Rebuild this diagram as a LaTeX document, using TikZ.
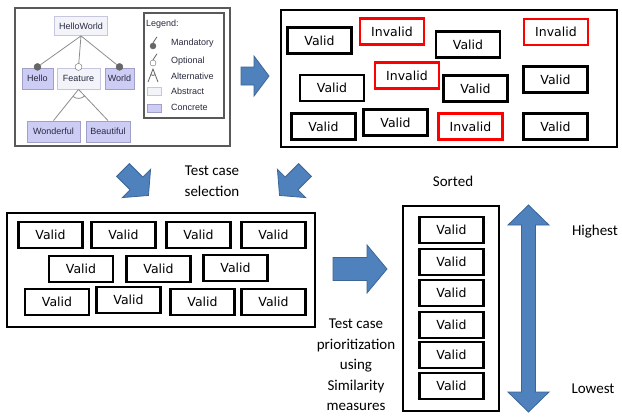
\documentclass[tikz,border=0pt]{standalone}
\usepackage{fontspec}
\setmainfont{DejaVu Sans}
\newfontfamily\notefont{Carlito}
\newfontfamily\fmfont{Liberation Sans}
\usepackage{tikz}
\usetikzlibrary{positioning, calc}
\definecolor{arrowblue}{HTML}{4F81BD}
\definecolor{arrowedge}{HTML}{3C6696}
\definecolor{fmconcrete}{HTML}{CCCCF5}
\definecolor{fmabstract}{HTML}{F3F3FA}
\definecolor{fmedge}{HTML}{A0A0C8}
\definecolor{fmtext}{HTML}{2A2A40}

\begin{document}
\begin{tikzpicture}[x=1pt, y=-1pt]
\tikzstyle{case}=[draw, line width=2.2pt, minimum width=64pt, minimum height=26pt, inner sep=0pt, font=\fontsize{12.5}{14}\selectfont]
\tikzstyle{bad}=[case, draw=red]
\tikzstyle{panel}=[draw, line width=1.8pt]
\tikzstyle{note}=[font=\notefont\fontsize{15}{20.5}\selectfont, align=center, inner sep=0pt]
\tikzstyle{blockarrow}=[fill=arrowblue, draw=arrowedge, line width=.8pt]
\tikzstyle{fmbox}=[draw=fmedge, fill=fmconcrete, line width=.8pt, minimum height=21pt, inner sep=0pt, text=fmtext, font=\fmfont\fontsize{9}{10}\selectfont]
\tikzstyle{fmabs}=[fmbox, fill=fmabstract, draw=fmedge!60]
\tikzstyle{fmline}=[draw=black!45, line width=.8pt]
\tikzstyle{dot}=[circle, draw=black!60, fill=black!60, minimum size=7pt, inner sep=0pt]
\tikzstyle{opt}=[dot, fill=white]
\tikzstyle{legtext}=[anchor=west, inner sep=0pt, text=fmtext, font=\fmfont\fontsize{9}{10}\selectfont]

\useasboundingbox (0,0) rectangle (622,416);

% feature model
\draw[draw=black!65, line width=1.5pt] (15,8) rectangle (230,146);
\node[fmabs, minimum width=53pt, minimum height=19pt] (hw) at (81,26) {HelloWorld};
\node[fmbox, minimum width=31pt] (hello) at (37.5,78.5) {Hello};
\node[fmabs, minimum width=43pt] (feat) at (78.5,78.5) {Feature};
\node[fmbox, minimum width=29pt] (world) at (119.5,78.5) {World};
\node[fmbox, minimum width=53pt] (wond) at (53.5,131.5) {Wonderful};
\node[fmbox, minimum width=44pt] (beau) at (108,131.5) {Beautiful};
\node[dot, above=-3pt of hello] (mh) {};
\node[opt, above=-3pt of feat] (of) {};
\node[dot, above=-3pt of world] (mw) {};

\path 
(hw.south) edge[fmline] (mh)
    edge[fmline] (of)
    edge[fmline] (mw)
(feat.south) edge[fmline] (wond.north)
    edge[fmline] (beau.north);
\draw[fmline] ($(feat.south)!9pt!(wond.north)$) to[bend right=40] ($(feat.south)!9pt!(beau.north)$);

% legend
\draw[draw=black!65, line width=1.2pt, fill=white] (144,13) rectangle (224,118);
\node[legtext] (lhead) at (146,24) {Legend:};
\node[dot, minimum size=6pt] (lmand) at (153,46) {};
\draw[fmline, draw=black!60] (lmand.north) -- ++(4,-6);
\node[legtext] (lmandt) at (171,43) {Mandatory};
\node[opt, minimum size=6pt] (lopt) at (153,63) {};
\draw[fmline, draw=black!60] (lopt.north) -- ++(4,-6);
\node[legtext] (loptt) at (171,61) {Optional};
\coordinate (lalt) at (153,69);
\coordinate (laltl) at (148,82);
\coordinate (laltr) at (158,82);
\draw[fmline, draw=black!60] (laltl) -- (lalt) -- (laltr);
\draw[fmline, draw=black!60] ($(lalt)!6pt!(laltl)$) to[bend right=40] ($(lalt)!6pt!(laltr)$);
\node[legtext] (laltt) at (171,76) {Alternative};
\node[fmabs, minimum width=14pt, minimum height=8pt] (labs) at (154,91) {};
\node[legtext] (labst) at (171,91) {Abstract};
\node[fmbox, minimum width=14pt, minimum height=8pt] (lcon) at (154,108) {};
\node[legtext] (lcont) at (171,107) {Concrete};

% all test cases
\draw[panel] (281,10) rectangle (617,147);
\node[case] (t1) at (319.5,40.5) {Valid};
\node[bad] (t2) at (392,31.5) {Invalid};
\node[case] (t3) at (468,44.5) {Valid};
\node[bad] (t4) at (556,32) {Invalid};
\node[case] (t5) at (332,88) {Valid};
\node[bad] (t6) at (407,75.5) {Invalid};
\node[case] (t7) at (475.5,88.5) {Valid};
\node[case] (t8) at (555.5,79.5) {Valid};
\node[case] (t9) at (323.5,126.5) {Valid};
\node[case] (t10) at (395.5,122.5) {Valid};
\node[bad] (t11) at (470.5,126.5) {Invalid};
\node[case] (t12) at (555.5,126.5) {Valid};

% selected test cases
\draw[panel] (7,213) rectangle (315,327);
\foreach \n/\x/\y in {1/50.5/235, 2/123.5/235, 3/198.5/235, 4/273.5/235,
                      5/81/269, 6/158.5/269, 7/235.5/268,
                      8/57/302, 9/128.5/300, 10/202.5/302, 11/273.5/302}
  \node[case] (v\n) at (\x,\y) {Valid};

% sorted test cases
\draw[panel] (403,206) rectangle (499,411);
\foreach \n/\y in {1/230, 2/262, 3/293, 4/325, 5/355, 6/386}
  \node[case] (s\n) at (451.5,\y) {Valid};

% arrows
\draw[blockarrow, shift={(241,76)}] (0,-9) -- (13,-9) -- (13,-20) -- (28,0) -- (13,20) -- (13,9) -- (0,9) -- cycle;
\draw[blockarrow, shift={(123,170)}, rotate=-45] (0,-9) -- (19,-9) -- (19,-20) -- (36,0) -- (19,20) -- (19,9) -- (0,9) -- cycle;
\draw[blockarrow, shift={(305,170)}, rotate=-135] (0,-9) -- (19,-9) -- (19,-20) -- (36,0) -- (19,20) -- (19,9) -- (0,9) -- cycle;
\draw[blockarrow, shift={(333,269)}] (0,-11.5) -- (34,-11.5) -- (34,-24) -- (54,0) -- (34,24) -- (34,11.5) -- (0,11.5) -- cycle;
\draw[blockarrow] (521.5,225) -- (508,225) -- (528.5,205) -- (549,225) -- (535.5,225) -- (535.5,392) -- (549,392) -- (528.5,412) -- (508,392) -- (521.5,392) -- cycle;

% labels
\node[note] (sel) at (212,181) {Test case\\selection};
\node[note] (srt) at (453,181) {Sorted};
\node[note] (prio) at (356,365) {Test case\\prioritization\\using\\Similarity\\measures};
\node[note] (hi) at (595,232) {Highest};
\node[note] (lo) at (593,389) {Lowest};

\end{tikzpicture}
\end{document}
